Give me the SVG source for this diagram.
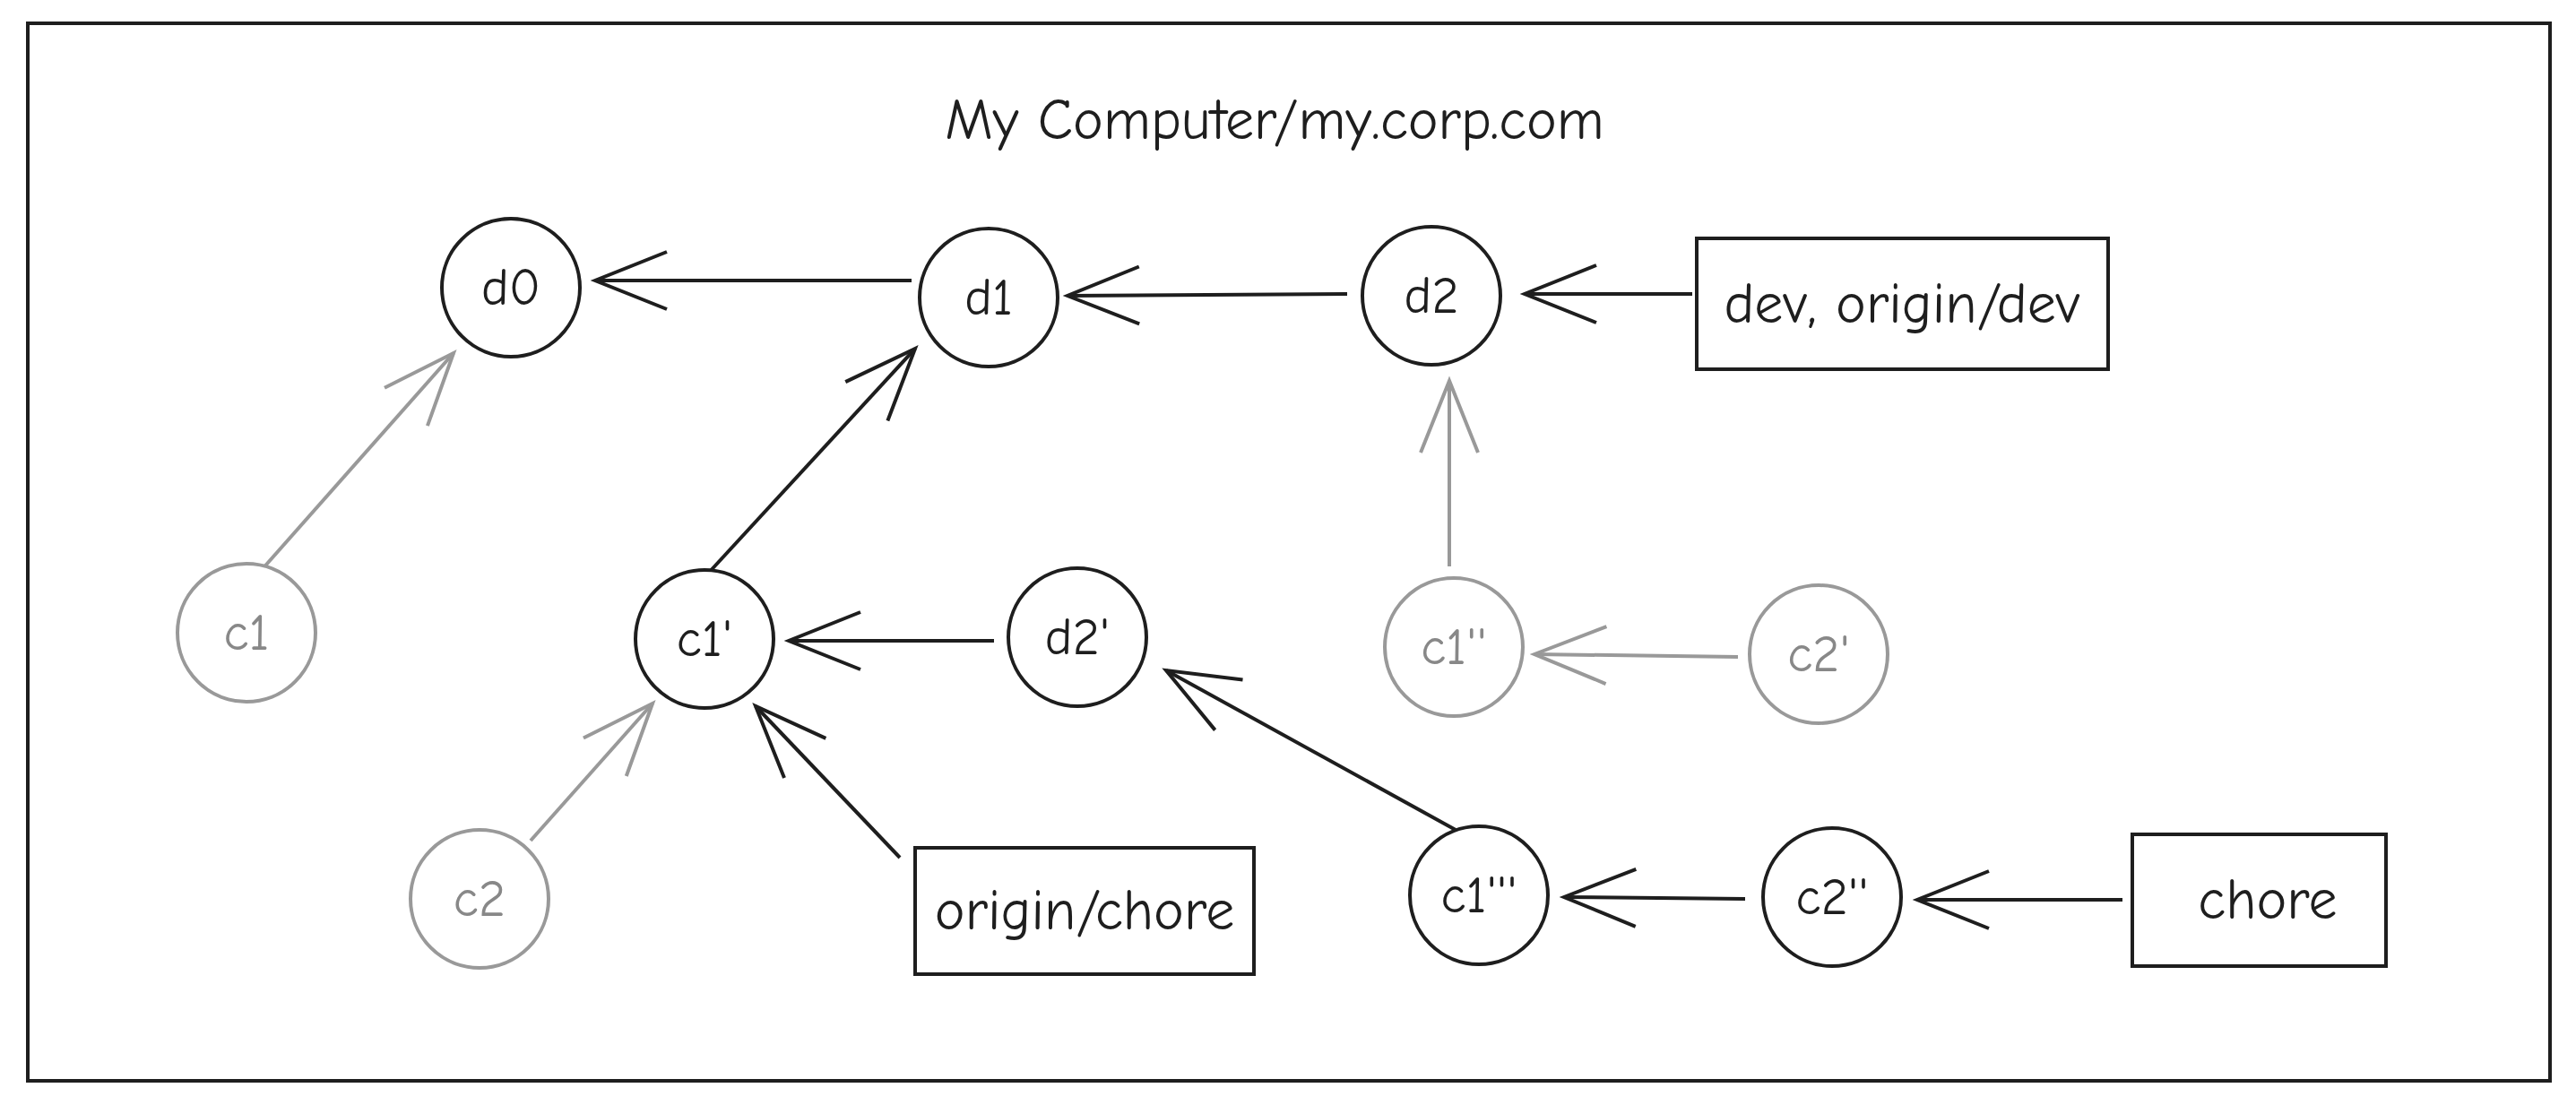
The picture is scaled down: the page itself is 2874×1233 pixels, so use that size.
<svg xmlns="http://www.w3.org/2000/svg" width="2874" height="1233" viewBox="0 0 2874 1233">
<style>
.n{fill:#fff;stroke:#1e1e1e;stroke-width:4}
.g{fill:#fff;stroke:#999;stroke-width:4}
.t{font-family:"Comic Neue","Liberation Sans",sans-serif;font-size:58px;text-anchor:middle;dominant-baseline:central;fill:#1e1e1e}
.b{font-size:64px}
.tg{fill:#888}
.c{fill:none;stroke:#1e1e1e;stroke-width:4}
.cg{fill:none;stroke:#999;stroke-width:4}
</style>
<defs>
<marker id="a" markerUnits="userSpaceOnUse" viewBox="-90 -45 100 90" markerWidth="100" markerHeight="90" refX="0" refY="0" orient="auto"><path d="M-80,-32 L0,0 L-80,32" fill="none" stroke="#1e1e1e" stroke-width="4"/></marker>
<marker id="ag" markerUnits="userSpaceOnUse" viewBox="-90 -45 100 90" markerWidth="100" markerHeight="90" refX="0" refY="0" orient="auto"><path d="M-80,-32 L0,0 L-80,32" fill="none" stroke="#999" stroke-width="4"/></marker>
</defs>
<rect width="2874" height="1233" fill="#fff"/>
<rect x="31" y="26" width="2814" height="1180" fill="none" stroke="#1e1e1e" stroke-width="4"/>
<text class="t b" x="1422" y="134">My Computer/my.corp.com</text>
<g id="connectors">
<line class="c" x1="1017" y1="313" x2="664" y2="313" marker-end="url(#a)"/>
<line class="c" x1="1503" y1="328" x2="1191" y2="330" marker-end="url(#a)"/>
<line class="c" x1="1888" y1="328" x2="1701" y2="328" marker-end="url(#a)"/>
<line class="cg" x1="290" y1="638" x2="506" y2="394" marker-end="url(#ag)"/>
<line class="c" x1="788" y1="642" x2="1021" y2="389" marker-end="url(#a)"/>
<line class="c" x1="1109" y1="715" x2="880" y2="715" marker-end="url(#a)"/>
<line class="cg" x1="1617" y1="632" x2="1617" y2="425" marker-end="url(#ag)"/>
<line class="cg" x1="1939" y1="733" x2="1712" y2="730" marker-end="url(#ag)"/>
<line class="cg" x1="592" y1="938" x2="728" y2="785" marker-end="url(#ag)"/>
<line class="c" x1="1004" y1="957" x2="843" y2="788" marker-end="url(#a)"/>
<line class="c" x1="1624" y1="926" x2="1301" y2="748" marker-end="url(#a)"/>
<line class="c" x1="1947" y1="1003" x2="1745" y2="1001" marker-end="url(#a)"/>
<line class="c" x1="2368" y1="1004" x2="2139" y2="1004" marker-end="url(#a)"/>
</g>
<g id="d0"><circle class="n" cx="570" cy="321" r="77"/><text class="t" x="570" y="321">d0</text></g>
<g id="d1"><circle class="n" cx="1103" cy="332" r="77"/><text class="t" x="1103" y="332">d1</text></g>
<g id="d2"><circle class="n" cx="1597" cy="330" r="77"/><text class="t" x="1597" y="330">d2</text></g>
<g id="c1"><circle class="g" cx="275" cy="706" r="77"/><text class="t tg" x="275" y="706">c1</text></g>
<g id="c1p"><circle class="n" cx="786" cy="713" r="77"/><text class="t" x="786" y="713">c1'</text></g>
<g id="d2p"><circle class="n" cx="1202" cy="711" r="77"/><text class="t" x="1202" y="711">d2'</text></g>
<g id="c1pp"><circle class="g" cx="1622" cy="722" r="77"/><text class="t tg" x="1622" y="722">c1''</text></g>
<g id="c2p"><circle class="g" cx="2029" cy="730" r="77"/><text class="t tg" x="2029" y="730">c2'</text></g>
<g id="c2"><circle class="g" cx="535" cy="1003" r="77"/><text class="t tg" x="535" y="1003">c2</text></g>
<g id="c1ppp"><circle class="n" cx="1650" cy="999" r="77"/><text class="t" x="1650" y="999">c1'''</text></g>
<g id="c2pp"><circle class="n" cx="2044" cy="1001" r="77"/><text class="t" x="2044" y="1001">c2''</text></g>
<g id="dev"><rect class="n" x="1893" y="266" width="459" height="146"/><text class="t b" x="2122" y="339">dev, origin/dev</text></g>
<g id="originchore"><rect class="n" x="1021" y="946" width="378" height="141"/><text class="t b" x="1210" y="1016">origin/chore</text></g>
<g id="chore"><rect class="n" x="2379" y="931" width="283" height="147"/><text class="t b" x="2530" y="1004">chore</text></g>
</svg>
